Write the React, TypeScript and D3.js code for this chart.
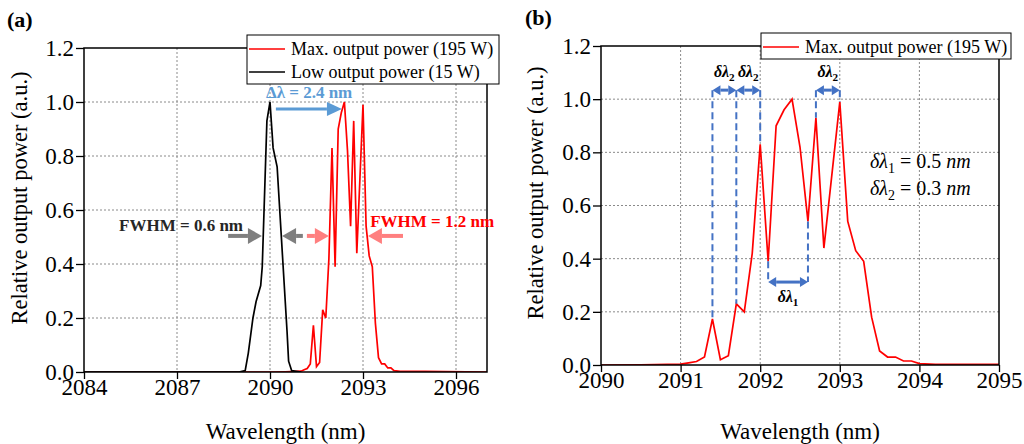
import React, { useEffect, useRef } from 'react';
import * as d3 from 'd3';

// spectrum at max output power (195 W)
const maxWl = [2084, 2090, 2090.5, 2091.0, 2091.1, 2091.2, 2091.3, 2091.4, 2091.5, 2091.6, 2091.7, 2091.8, 2091.9, 2092.0, 2092.1, 2092.2, 2092.3, 2092.4, 2092.5, 2092.6, 2092.7, 2092.8, 2093.0, 2093.1, 2093.2, 2093.3, 2093.4, 2093.5, 2093.6, 2093.7, 2093.8, 2093.9, 2094.0, 2094.2, 2095.0, 2097];
const maxPow = [0, 0, 0.001, 0.003, 0.008, 0.013, 0.03, 0.173, 0.02, 0.035, 0.23, 0.2, 0.42, 0.83, 0.39, 0.9, 0.96, 1.0, 0.82, 0.54, 0.93, 0.44, 0.99, 0.54, 0.43, 0.39, 0.18, 0.053, 0.03, 0.03, 0.015, 0.015, 0.005, 0.002, 0.002, 0];

// spectrum at low output power (15 W)
const lowWl = [2084, 2089.0, 2089.2, 2089.3, 2089.45, 2089.55, 2089.7, 2089.75, 2089.9, 2090.0, 2090.1, 2090.23, 2090.55, 2090.6, 2090.7, 2091.0];
const lowPow = [0, 0, 0.005, 0.07, 0.2, 0.26, 0.32, 0.39, 0.93, 1.0, 0.83, 0.76, 0.15, 0.04, 0.005, 0];

const xTicksA = [2084, 2087, 2090, 2093, 2096];
const xTicksB = [2090, 2091, 2092, 2093, 2094, 2095];
const yTicks = [0, 0.2, 0.4, 0.6, 0.8, 1.0, 1.2];
const legendA = ['Max. output power (195 W)', 'Low output power (15 W)'];
const legendB = ['Max. output power (195 W)'];

// peak spacings marked in panel (b)
const dl2Pairs = [[2091.4, 2091.7], [2091.7, 2092.0], [2092.7, 2093.0]];
const dl1Pair = [2092.1, 2092.6];

const FONT = "'Liberation Serif', 'DejaVu Serif', serif";
const BLUE_A = '#5b9bd5';
const BLUE_B = '#4472c4';

function powAt(w) {
    const i = maxWl.indexOf(w);
    return i >= 0 ? maxPow[i] : 0;
}

function txt(sel, size, weight = 'normal') {
    return sel.style('font-family', FONT).style('font-size', `${size}px`).style('font-weight', weight);
}

function drawPanel(svg, box, xDomain, xTicks, id) {
    const x = d3.scaleLinear().domain(xDomain).range([box.left, box.right]);
    const y = d3.scaleLinear().domain([0, 1.2]).range([box.bottom, box.top]);
    const g = svg.append('g');

    // grid
    xTicks.filter(t => t > xDomain[0] && t < xDomain[1]).forEach(t => {
        g.append('line')
            .attr('x1', x(t)).attr('x2', x(t))
            .attr('y1', box.top).attr('y2', box.bottom)
            .attr('stroke', '#8a8a8a').attr('stroke-dasharray', '2,2');
    });
    yTicks.filter(t => t > 0 && t < 1.2).forEach(t => {
        g.append('line')
            .attr('x1', box.left).attr('x2', box.right)
            .attr('y1', y(t)).attr('y2', y(t))
            .attr('stroke', '#8a8a8a').attr('stroke-dasharray', '2,2');
    });

    // axes
    const ax = g.append('g')
        .attr('transform', `translate(0,${box.bottom})`)
        .call(d3.axisBottom(x).tickValues(xTicks).tickSize(7).tickPadding(0).tickSizeOuter(0).tickFormat(d3.format('d')));
    const ay = g.append('g')
        .attr('transform', `translate(${box.left},0)`)
        .call(d3.axisLeft(y).tickValues(yTicks).tickSize(8).tickPadding(2).tickSizeOuter(0).tickFormat(d3.format('.1f')));
    [ax, ay].forEach(a => {
        a.attr('font-family', null).attr('font-size', null);
        a.select('.domain').remove();
        a.selectAll('line').attr('stroke', '#000').attr('stroke-width', 1.3);
        txt(a.selectAll('text'), 23).attr('fill', '#000');
    });

    svg.append('clipPath').attr('id', id)
        .append('rect')
        .attr('x', box.left).attr('y', box.top - 2)
        .attr('width', box.right - box.left).attr('height', box.bottom - box.top + 2);

    return { x, y, g };
}

function drawFrame(g, box) {
    g.append('rect')
        .attr('x', box.left).attr('y', box.top)
        .attr('width', box.right - box.left).attr('height', box.bottom - box.top)
        .attr('fill', 'none').attr('stroke', '#000').attr('stroke-width', 1.5);
}

function drawLegend(g, lx, ly, w, items, colors) {
    const rowH = 23;
    g.append('rect')
        .attr('x', lx).attr('y', ly)
        .attr('width', w).attr('height', items.length * rowH + 3)
        .attr('fill', '#fff').attr('stroke', '#000').attr('stroke-width', 1);
    items.forEach((t, i) => {
        const cy = ly + 14 + i * rowH;
        g.append('line')
            .attr('x1', lx + 2).attr('x2', lx + 38)
            .attr('y1', cy).attr('y2', cy)
            .attr('stroke', colors[i]).attr('stroke-width', 1.5);
        txt(g.append('text'), 18)
            .attr('x', lx + 44).attr('y', cy + 6)
            .text(t);
    });
}

// single headed horizontal arrow, tip at x2
function arrow(g, x1, x2, yy, color, shaftW, headL, headHW) {
    const dir = x2 > x1 ? 1 : -1;
    g.append('line')
        .attr('x1', x1).attr('x2', x2 - dir * headL)
        .attr('y1', yy).attr('y2', yy)
        .attr('stroke', color).attr('stroke-width', shaftW);
    g.append('path')
        .attr('d', `M${x2},${yy} L${x2 - dir * headL},${yy - headHW} L${x2 - dir * headL},${yy + headHW} Z`)
        .attr('fill', color);
}

function dblArrow(g, x1, x2, yy, color) {
    const hl = 8, hw = 5;
    g.append('line')
        .attr('x1', x1 + hl).attr('x2', x2 - hl)
        .attr('y1', yy).attr('y2', yy)
        .attr('stroke', color).attr('stroke-width', 3);
    g.append('path')
        .attr('d', `M${x1},${yy} L${x1 + hl},${yy - hw} L${x1 + hl},${yy + hw} Z M${x2},${yy} L${x2 - hl},${yy - hw} L${x2 - hl},${yy + hw} Z`)
        .attr('fill', color);
}

function mathLabel(g, xx, yy, size, bold, sub, rest) {
    const t = txt(g.append('text'), size, bold ? 'bold' : 'normal')
        .attr('x', xx).attr('y', yy);
    t.append('tspan').style('font-style', 'italic').text('δλ');
    t.append('tspan').style('font-size', `${size * 0.7}px`).attr('dy', size * 0.25).text(sub);
    if (rest) {
        t.append('tspan').attr('dy', -size * 0.25).text(` = ${rest[0]} `);
        t.append('tspan').style('font-style', 'italic').text(rest[1]);
    }
    return t;
}

export default function App() {
    const svgRef = useRef(null);

    useEffect(() => {
        const svg = d3.select(svgRef.current);
        svg.selectAll('*').remove();

        const line = d3.line().x(d => d[0]).y(d => d[1]);

        // ---------- Panel (a)
        const boxA = { left: 84, right: 487, top: 48, bottom: 372 };
        const A = drawPanel(svg, boxA, [2084, 2097], xTicksA, 'clipA');
        const maxPts = maxWl.map((w, i) => [w, maxPow[i]]);
        const lowPts = lowWl.map((w, i) => [w, lowPow[i]]);
        const curves = A.g.append('g').attr('clip-path', 'url(#clipA)');
        curves.append('path')
            .attr('d', line(maxPts.map(p => [A.x(p[0]), A.y(p[1])])))
            .attr('fill', 'none').attr('stroke', '#ff0000').attr('stroke-width', 1.7);
        curves.append('path')
            .attr('d', line(lowPts.map(p => [A.x(p[0]), A.y(p[1])])))
            .attr('fill', 'none').attr('stroke', '#000').attr('stroke-width', 1.7);
        drawFrame(A.g, boxA);
        drawLegend(A.g, 247, 35, 252, legendA, ['#ff0000', '#000']);

        // annotations (a)
        txt(A.g.append('text'), 17, 'bold')
            .attr('x', A.x(2089.87)).attr('y', A.y(1.015))
            .attr('fill', BLUE_A).text('Δλ = 2.4 nm');
        arrow(A.g, A.x(2090.19), A.x(2092.32), A.y(0.974), BLUE_A, 3, 15, 7);

        txt(A.g.append('text'), 17, 'bold')
            .attr('x', A.x(2089.13)).attr('y', A.y(0.522))
            .attr('text-anchor', 'end')
            .attr('fill', '#262626').text('FWHM = 0.6 nm');
        arrow(A.g, A.x(2088.65), A.x(2089.74), A.y(0.504), '#7f7f7f', 4, 14, 8);
        arrow(A.g, A.x(2091.06), A.x(2090.39), A.y(0.504), '#7f7f7f', 4, 14, 8);
        arrow(A.g, A.x(2091.19), A.x(2091.9), A.y(0.504), '#ff7f7f', 4, 14, 8);
        arrow(A.g, A.x(2094.29), A.x(2093.16), A.y(0.504), '#ff7f7f', 4, 14, 8);
        txt(A.g.append('text'), 17, 'bold')
            .attr('x', A.x(2093.23)).attr('y', A.y(0.537))
            .attr('fill', '#ff0000').text('FWHM = 1.2 nm');

        // ---------- Panel (b)
        const boxB = { left: 601, right: 999, top: 46, bottom: 365 };
        const B = drawPanel(svg, boxB, [2090, 2095], xTicksB, 'clipB');
        B.g.append('g').attr('clip-path', 'url(#clipB)')
            .append('path')
            .attr('d', line(maxPts.map(p => [B.x(p[0]), B.y(p[1])])))
            .attr('fill', 'none').attr('stroke', '#ff0000').attr('stroke-width', 1.7);
        drawFrame(B.g, boxB);
        drawLegend(B.g, 761, 33, 250, legendB, ['#ff0000']);

        // annotations (b)
        const arrY = B.y(1.034);
        const dashed = new Set();
        dl2Pairs.forEach(p => p.forEach(w => dashed.add(w)));
        dashed.forEach(w => {
            B.g.append('line')
                .attr('x1', B.x(w)).attr('x2', B.x(w))
                .attr('y1', arrY).attr('y2', B.y(powAt(w)))
                .attr('stroke', BLUE_B).attr('stroke-width', 2).attr('stroke-dasharray', '7,4');
        });
        dl2Pairs.forEach(p => {
            dblArrow(B.g, B.x(p[0]), B.x(p[1]), arrY, BLUE_B);
            mathLabel(B.g, (B.x(p[0]) + B.x(p[1])) / 2, B.y(1.083), 16, true, '2', null)
                .attr('text-anchor', 'middle');
        });
        const dl1Y = B.y(0.312);
        dl1Pair.forEach(w => {
            B.g.append('line')
                .attr('x1', B.x(w)).attr('x2', B.x(w))
                .attr('y1', B.y(powAt(w))).attr('y2', dl1Y)
                .attr('stroke', BLUE_B).attr('stroke-width', 2).attr('stroke-dasharray', '7,4');
        });
        dblArrow(B.g, B.x(dl1Pair[0]), B.x(dl1Pair[1]), dl1Y, BLUE_B);
        mathLabel(B.g, (B.x(dl1Pair[0]) + B.x(dl1Pair[1])) / 2, B.y(0.237), 16, true, '1', null)
            .attr('text-anchor', 'middle');

        mathLabel(B.g, B.x(2093.38), B.y(0.74), 20, false, '1', ['0.5', 'nm']);
        mathLabel(B.g, B.x(2093.38), B.y(0.64), 20, false, '2', ['0.3', 'nm']);

        // ---------- titles
        [[27, 198], [543, 193]].forEach(([tx, ty]) => {
            txt(svg.append('text'), 22.5)
                .attr('transform', `translate(${tx},${ty}) rotate(-90)`)
                .attr('text-anchor', 'middle')
                .text('Relative output power (a.u.)');
        });
        [(boxA.left + boxA.right) / 2, (boxB.left + boxB.right) / 2].forEach(cx => {
            txt(svg.append('text'), 23)
                .attr('x', cx).attr('y', 439)
                .attr('text-anchor', 'middle')
                .text('Wavelength (nm)');
        });
        txt(svg.append('text'), 22, 'bold').attr('x', 7).attr('y', 27).text('(a)');
        txt(svg.append('text'), 22, 'bold').attr('x', 525).attr('y', 25).text('(b)');
    }, []);

    return (
        <svg ref={svgRef} width={1024} height={444}
            style={{ position: 'absolute', left: 0, top: 0, background: '#fff', fontFamily: FONT }} />
    );
}
